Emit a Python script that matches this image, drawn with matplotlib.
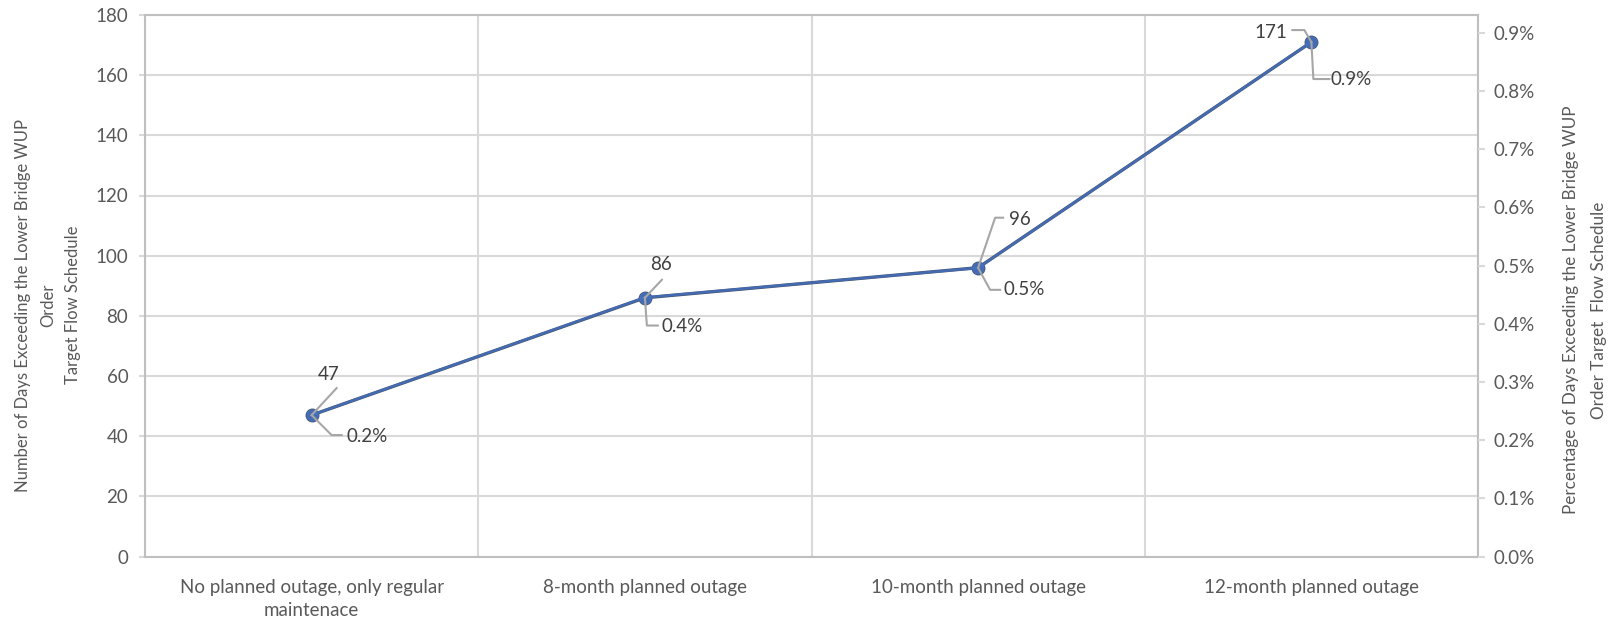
import matplotlib
matplotlib.use("Agg")
import matplotlib.pyplot as plt
from matplotlib.lines import Line2D
from matplotlib.ticker import FuncFormatter, MultipleLocator

# Scenarios and results
categories = ["No planned outage, only regular\nmaintenace",
              "8-month planned outage",
              "10-month planned outage",
              "12-month planned outage"]
days_exceeding = [47, 86, 96, 171]
pct_exceeding = [0.243, 0.445, 0.496, 0.884]   # percent of days in record

left_ticks = list(range(0, 181, 20))
right_ticks = [i / 10 for i in range(0, 10)]

plt.rcParams['font.family'] = ['Lato', 'DejaVu Sans']
TXT = '#595959'
GRID = '#D9D9D9'
LEADER = '#A6A6A6'
FS = 13.5

W, H = 1619, 620
fig = plt.figure(figsize=(W / 100, H / 100), dpi=100)
L, R, T, B = 145, 1478, 15, 556.5
ax = fig.add_axes([L / W, 1 - B / H, (R - L) / W, (B - T) / H])

x = list(range(len(categories)))
ax.set_xlim(-0.5, len(categories) - 0.5)
ax.set_ylim(0, 180)
ax.set_yticks(left_ticks)
ax.set_xticks(x)
ax.set_xticklabels(categories, color=TXT, fontsize=FS, linespacing=1.45)
ax.xaxis.set_minor_locator(MultipleLocator(1, offset=0.5))
ax.tick_params(axis='x', which='both', length=0, pad=16)
ax.tick_params(axis='y', length=4, color=GRID, width=1.5, labelcolor=TXT,
               labelsize=FS, pad=8)
ax.grid(axis='y', which='major', color=GRID, lw=1.5)
ax.grid(axis='x', which='minor', color=GRID, lw=1.5)
for s in ax.spines.values():
    s.set_color('#BFBFBF')
    s.set_linewidth(1.5)
ax.set_axisbelow(True)

ax2 = ax.twinx()
ax2.set_ylim(0, 180 / 19345 * 100)
ax2.set_yticks(right_ticks)
ax2.yaxis.set_major_formatter(FuncFormatter(lambda v, p: f"{v:.1f}%"))
ax2.tick_params(axis='y', length=5, color=GRID, width=1.5, labelcolor=TXT,
                labelsize=FS, pad=6)
for s in ax2.spines.values():
    s.set_visible(False)

ax.plot(x, days_exceeding, color='#44546A', lw=2.4, marker='o', ms=9,
        mfc='#44546A', mec='#44546A', zorder=3)
ax2.plot(x, pct_exceeding, color='#4472C4', lw=1.8, marker='o', ms=8,
         mfc='#4472C4', mec='#4472C4', alpha=0.8, zorder=4)

fig.canvas.draw()

# leader lines (pixel offsets from the marker) and label placement
count_leaders = [
    ([(0, 0), (25, 27)], (17, 41), 'center'),
    ([(0, 0), (17, 18)], (16, 33), 'center'),
    ([(0, 0), (17, 50), (25, 50)], (31, 48), 'left'),
    ([(0, 0), (-7, 12), (-19, 12)], (-24, 10), 'right'),
]
pct_leaders = [
    ([(0, 0), (20, -20), (30, -20)], (35, -21)),
    ([(0, 0), (2, -28), (13, -28)], (17, -29)),
    ([(0, 0), (12, -22), (22, -22)], (25, -22)),
    ([(0, 0), (2, -37), (18, -37)], (19, -37)),
]

for i in range(len(categories)):
    px, py = ax.transData.transform((x[i], days_exceeding[i]))
    pts, (tx, ty), ha = count_leaders[i]
    fig.add_artist(Line2D([px + dx for dx, dy in pts], [py + dy for dx, dy in pts],
                          color=LEADER, lw=1.5, transform=None, zorder=5))
    fig.text((px + tx) / W, (py + ty) / H, f"{days_exceeding[i]}", ha=ha,
             va='center', color='#404040', fontsize=FS)

    qx, qy = ax2.transData.transform((x[i], pct_exceeding[i]))
    pts, (tx, ty) = pct_leaders[i]
    fig.add_artist(Line2D([qx + dx for dx, dy in pts], [qy + dy for dx, dy in pts],
                          color=LEADER, lw=1.5, transform=None, zorder=5))
    fig.text((qx + tx) / W, (qy + ty) / H, f"{pct_exceeding[i]:.1f}%", ha='left',
             va='center', color='#404040', fontsize=FS)

fig.text(48 / W, 1 - 305 / H,
         "Number of Days Exceeding the Lower Bridge WUP\nOrder\nTarget Flow Schedule",
         rotation=90, ha='center', va='center', color=TXT, fontsize=12,
         linespacing=1.7)
fig.text(1585 / W, 1 - 310 / H,
         "Percentage of Days Exceeding the Lower Bridge WUP\nOrder Target  Flow Schedule",
         rotation=90, ha='center', va='center', color=TXT, fontsize=12.3,
         linespacing=1.85)

fig.savefig("out.png", dpi=100)
